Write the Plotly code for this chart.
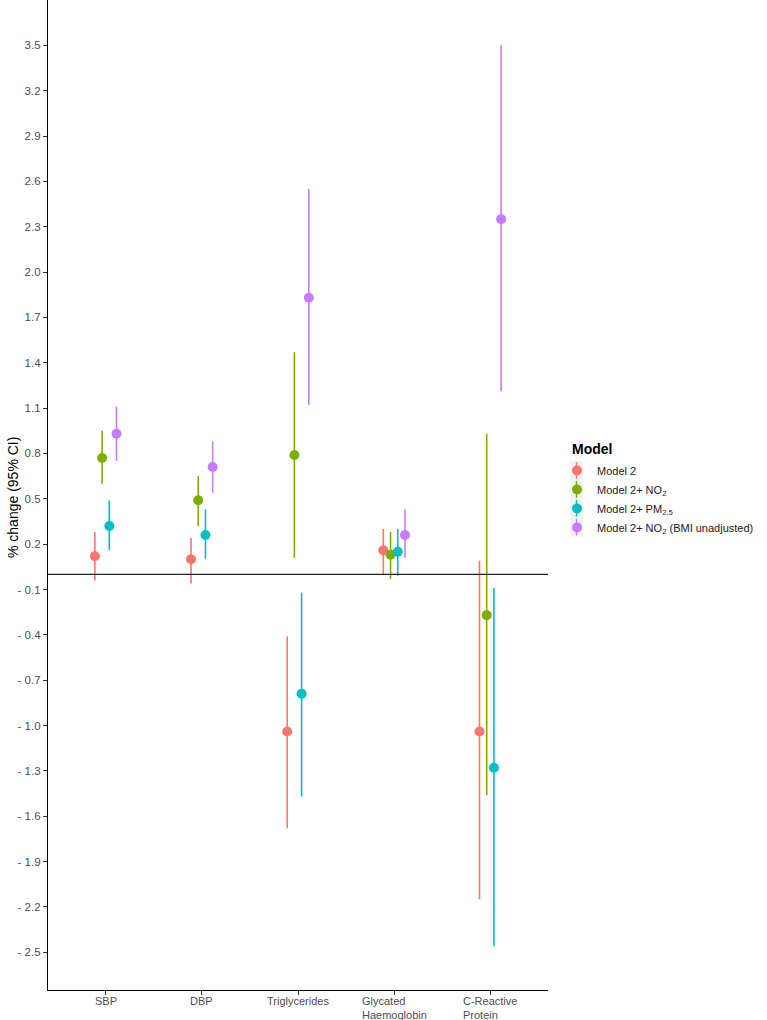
import numpy as np
import plotly.graph_objects as go

categories = ["SBP", "DBP", "Triglycerides", "Glycated<br>Haemoglobin", "C-Reactive<br>Protein"]

series_names = [
    "Model 2",
    "Model 2+ NO<sub>2</sub>",
    "Model 2+ PM<sub>2.5</sub>",
    "Model 2+ NO<sub>2</sub> (BMI unadjusted)",
]
colors = ["#F8766D", "#7CAE00", "#00BFC4", "#C77CFF"]

model2_est = [0.12, 0.10, -1.04, 0.16, -1.04]
model2_lo = [-0.04, -0.06, -1.68, 0.00, -2.15]
model2_hi = [0.28, 0.24, -0.41, 0.30, 0.09]

no2_est = [0.77, 0.49, 0.79, 0.13, -0.27]
no2_lo = [0.60, 0.32, 0.11, -0.03, -1.46]
no2_hi = [0.95, 0.65, 1.47, 0.28, 0.93]

pm25_est = [0.32, 0.26, -0.79, 0.15, -1.28]
pm25_lo = [0.16, 0.10, -1.47, -0.01, -2.46]
pm25_hi = [0.49, 0.43, -0.12, 0.30, -0.09]

bmi_est = [0.93, 0.71, 1.83, 0.26, 2.35]
bmi_lo = [0.75, 0.54, 1.12, 0.11, 1.21]
bmi_hi = [1.11, 0.88, 2.55, 0.43, 3.50]

tick_vals = [-2.5, -2.2, -1.9, -1.6, -1.3, -1.0, -0.7, -0.4, -0.1, 0.2, 0.5, 0.8, 1.1, 1.4, 1.7, 2.0, 2.3, 2.6, 2.9, 3.2, 3.5]
tick_text = [("- %.1f" % abs(v)) if v < 0 else ("%.1f" % v) for v in tick_vals]

series = [
    (model2_est, model2_lo, model2_hi),
    (no2_est, no2_lo, no2_hi),
    (pm25_est, pm25_lo, pm25_hi),
    (bmi_est, bmi_lo, bmi_hi),
]

W, H = 767, 1020
ML, MR, MT, MB = 48, 219, 0, 30
PW, PH = W - ML - MR, H - MT - MB


def px_x(p):
    return (p - ML) / PW


def px_y(p):
    return (H - MB - p) / PH


dodge = 0.3
n = len(series)
fig = go.Figure()
base = np.arange(len(categories))
for i, ((est, lo, hi), name, col) in enumerate(zip(series, series_names, colors)):
    off = -dodge / 2 + dodge / n * (i + 0.5)
    est_a = np.array(est, dtype=float)
    fig.add_trace(go.Scatter(
        x=base + off,
        y=est_a,
        mode="markers",
        name=name,
        marker=dict(color=col, size=10, line=dict(width=0)),
        error_y=dict(
            type="data", symmetric=False,
            array=np.array(hi) - est_a,
            arrayminus=est_a - np.array(lo),
            color=col, thickness=1.6, width=0,
        ),
    ))

# x category labels as annotations (two-line labels fit tightly)
for i, c in enumerate(categories):
    fig.add_annotation(x=i, y=0, xref="x", yref="paper", text=c, showarrow=False,
                       xanchor="center", yanchor="top", yshift=-3, align="left",
                       font=dict(size=11, color="#4D4D4D"))

# y axis title
fig.add_annotation(x=px_x(13), y=px_y(498), xref="paper", yref="paper", text="% change (95% CI)",
                   showarrow=False, textangle=-90, xanchor="center", yanchor="middle",
                   font=dict(size=14, color="black"))

# legend key background and key lines
key_top, key_step = 461, 18.9
fig.add_shape(type="rect", xref="paper", yref="paper",
              x0=px_x(570), x1=px_x(583), y0=px_y(key_top + 4 * key_step), y1=px_y(key_top),
              fillcolor="#F2F2F2", line=dict(width=0), layer="below")
for i, col in enumerate(colors):
    fig.add_shape(type="line", xref="paper", yref="paper",
                  x0=px_x(576.5), x1=px_x(576.5),
                  y0=px_y(key_top + i * key_step + 1), y1=px_y(key_top + (i + 1) * key_step - 1),
                  line=dict(color=col, width=1.4), layer="below")

fig.add_annotation(x=px_x(570), y=px_y(449), xref="paper", yref="paper", text="<b>Model</b>",
                   showarrow=False, xanchor="left", yanchor="middle",
                   font=dict(size=14, color="black"))

fig.add_hline(y=0, line=dict(color="#222222", width=1.4))

fig.update_layout(
    width=W, height=H,
    margin=dict(l=ML, r=MR, t=MT, b=MB),
    plot_bgcolor="white", paper_bgcolor="white",
    font=dict(family="Liberation Sans, Arial, sans-serif", size=11, color="#4D4D4D"),
    showlegend=True,
    legend=dict(
        x=px_x(557), y=px_y(456), xanchor="left", yanchor="top",
        font=dict(size=11, color="#1A1A1A"),
        bgcolor="rgba(0,0,0,0)",
        itemwidth=30, tracegroupgap=0,
    ),
    xaxis=dict(
        range=[-0.6, 4.6], tickmode="array", tickvals=list(base), ticktext=[""] * len(base),
        showgrid=False, zeroline=False, showline=True, linecolor="black", linewidth=1.3,
        ticks="outside", ticklen=4, tickcolor="#333333", automargin=False,
    ),
    yaxis=dict(
        range=[-2.75, 3.8], tickmode="array", tickvals=tick_vals, ticktext=tick_text,
        showgrid=False, zeroline=False, showline=True, linecolor="black", linewidth=1.3,
        ticks="outside", ticklen=4, tickcolor="#333333", automargin=False,
        tickfont=dict(size=11.5, color="#4D4D4D"),
    ),
)

fig.write_html("out.html", config={"displayModeBar": False},
               post_script="document.body.style.margin='0px';")
